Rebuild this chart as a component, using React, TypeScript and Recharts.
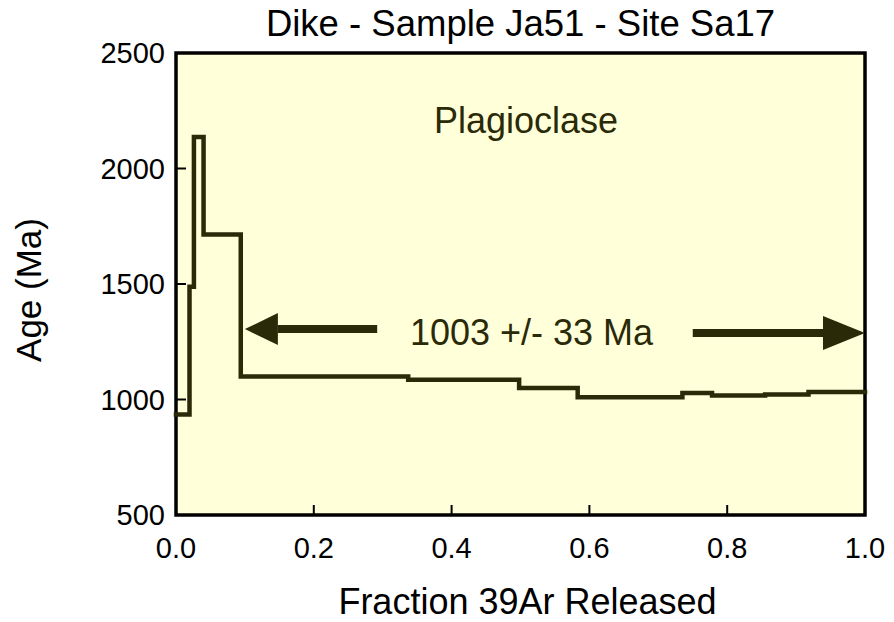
import React from 'react';
import { LineChart, Line, XAxis, YAxis, ReferenceArea, ReferenceLine, ReferenceDot, Label } from 'recharts';

// step edges (cumulative 39Ar fraction) and the apparent age of each step
const stepStarts = [0, 0.0196, 0.026, 0.04, 0.094, 0.337, 0.498, 0.583, 0.735, 0.778, 0.855, 0.918];
const stepAges = [935, 1488, 2136, 1714, 1100, 1085, 1050, 1010, 1028, 1017, 1022, 1032];
const fractionEnd = 1.0;

const xTicks = [0, 0.2, 0.4, 0.6, 0.8, 1.0];
const yTicks = [500, 1000, 1500, 2000, 2500];

const plateauLabel = '1003 +/- 33 Ma';
const plateauAge = 1290;
const plateauArrows = { left: [0.292, 0.1], right: [0.75, 1.0] };
const mineralLabel = 'Plagioclase';

const FONT = '"Liberation Sans", Arial, sans-serif';
const INK = '#2b2a08';
const PANEL = '#ffffd9';

const data = [
  ...stepStarts.map((x, i) => ({ x, age: stepAges[i] })),
  { x: fractionEnd, age: stepAges[stepAges.length - 1] },
];

const YTick = ({ x, y, payload }: any) => (
  <g>
    <line x1={x} x2={x + 10} y1={y} y2={y} stroke="#000" strokeWidth={2} />
    <text x={x - 11} y={y} textAnchor="end" dominantBaseline="central" fontSize={29} fontFamily={FONT} fill="#000">
      {payload.value}
    </text>
  </g>
);

const XTick = ({ x, y, payload }: any) => (
  <g>
    <line x1={x} x2={x} y1={y} y2={y - 10} stroke="#000" strokeWidth={2} />
    <text x={x} y={y + 33} textAnchor="middle" dominantBaseline="central" fontSize={29} fontFamily={FONT} fill="#000">
      {Number(payload.value).toFixed(1)}
    </text>
  </g>
);

// arrow drawn from (x1,y1) to a head at (x2,y2)
const makeArrow = (headLen: number, headHalf: number) => (props: any) => {
  const { x1, y1, x2, y2 } = props;
  const dir = x2 > x1 ? 1 : -1;
  const base = x2 - dir * headLen;
  return (
    <g>
      <line x1={x1} y1={y1} x2={base} y2={y2} stroke={INK} strokeWidth={8} />
      <polygon points={`${x2},${y2} ${base},${y2 - headHalf} ${base},${y2 + headHalf}`} fill={INK} />
    </g>
  );
};

const YTitle = ({ viewBox }: any) => {
  const cx = 28;
  const cy = viewBox.y + viewBox.height / 2 + 6;
  return (
    <text x={cx} y={cy} transform={`rotate(-90, ${cx}, ${cy})`} textAnchor="middle" dominantBaseline="central"
      fontSize={35} fontFamily={FONT} fill="#000">
      Age (Ma)
    </text>
  );
};

export default function App() {
  return (
    <div style={{ position: 'absolute', left: 0, top: 0, width: 894, height: 622, background: '#fff', fontFamily: FONT }}>
      <div style={{ position: 'absolute', left: 176, top: 6, width: 689, textAlign: 'center', fontSize: 36.5, lineHeight: '36px', color: '#000' }}>
        Dike - Sample Ja51 - Site Sa17
      </div>
      <LineChart width={894} height={622} data={data} margin={{ top: 53, right: 29, bottom: 0, left: 0 }}>
        <ReferenceArea x1={0} x2={1} y1={500} y2={2500} fill={PANEL} fillOpacity={1} stroke="#000" strokeWidth={3.5} />
        <XAxis type="number" dataKey="x" domain={[0, 1]} ticks={xTicks} height={107} axisLine={false} tickLine={false}
          tickSize={0} tickMargin={0} tick={<XTick />} interval={0}>
          <Label value="Fraction 39Ar Released" position="insideBottom" offset={8} dx={7} fontSize={36} fontFamily={FONT} fill="#000" />
        </XAxis>
        <YAxis type="number" domain={[500, 2500]} ticks={yTicks} width={176} axisLine={false} tickLine={false}
          tickSize={0} tickMargin={0} tick={<YTick />} interval={0}>
          <Label content={<YTitle />} />
        </YAxis>
        <Line type="stepAfter" dataKey="age" stroke={INK} strokeWidth={4.5} dot={false} isAnimationActive={false} strokeLinejoin="miter" strokeLinecap="square" />
        <ReferenceLine segment={[{ x: plateauArrows.left[0], y: plateauAge + 15 }, { x: plateauArrows.left[1], y: plateauAge + 15 }]}
          shape={makeArrow(33, 16)} />
        <ReferenceLine segment={[{ x: plateauArrows.right[0], y: plateauAge - 2 }, { x: plateauArrows.right[1], y: plateauAge - 2 }]}
          shape={makeArrow(42, 17)} />
        <ReferenceDot x={0.508} y={2210} r={0} stroke="none" fill="none">
          <Label value={mineralLabel} position="center" fontSize={36} fontFamily={FONT} fill={INK} />
        </ReferenceDot>
        <ReferenceDot x={0.516} y={plateauAge} r={0} stroke="none" fill="none">
          <Label value={plateauLabel} position="center" fontSize={36} fontFamily={FONT} fill={INK} />
        </ReferenceDot>
      </LineChart>
    </div>
  );
}
